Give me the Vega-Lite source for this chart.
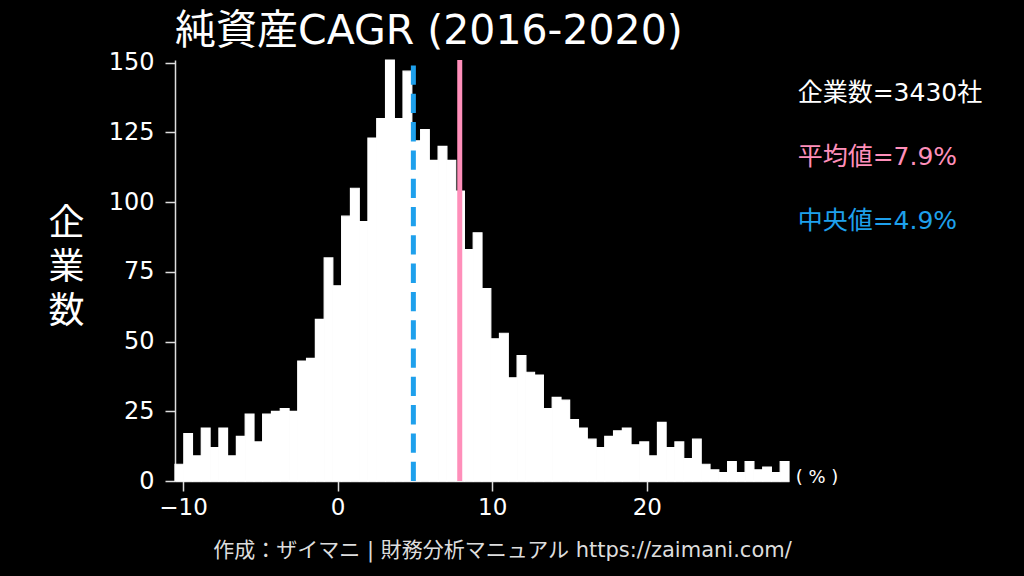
{
  "$schema": "https://vega.github.io/schema/vega-lite/v6.json",
  "width": 614,
  "height": 421,
  "autosize": {"type": "none"},
  "padding": {"left": 175, "top": 60, "right": 235, "bottom": 95},
  "background": "#000000",
  "config": {
    "view": {"stroke": null},
    "font": "DejaVu Sans, Noto Sans CJK JP",
    "axis": {"grid": false, "domainColor": "#dddddd", "tickColor": "#dddddd", "labelColor": "#ffffff", "titleColor": "#ffffff", "labelFont": "DejaVu Sans, Noto Sans CJK JP", "titleFont": "DejaVu Sans, Noto Sans CJK JP", "labelFontSize": 23, "tickSize": 10, "domainWidth": 1.5, "tickWidth": 1.5}
  },
  "title": {"text": "純資産CAGR (2016-2020)", "anchor": "start", "frame": "group", "fontSize": 41, "fontWeight": "normal", "color": "#ffffff", "font": "DejaVu Sans, Noto Sans CJK JP", "offset": -2},
  "datasets": {
    "bins": [
      {"x0": -10.52, "x1": -9.95, "n": 6},
      {"x0": -9.95, "x1": -9.39, "n": 17},
      {"x0": -9.39, "x1": -8.82, "n": 9},
      {"x0": -8.82, "x1": -8.25, "n": 19},
      {"x0": -8.25, "x1": -7.68, "n": 12},
      {"x0": -7.68, "x1": -7.12, "n": 19},
      {"x0": -7.12, "x1": -6.55, "n": 9},
      {"x0": -6.55, "x1": -5.98, "n": 16},
      {"x0": -5.98, "x1": -5.41, "n": 24},
      {"x0": -5.41, "x1": -4.85, "n": 14},
      {"x0": -4.85, "x1": -4.28, "n": 24},
      {"x0": -4.28, "x1": -3.71, "n": 25},
      {"x0": -3.71, "x1": -3.14, "n": 26},
      {"x0": -3.14, "x1": -2.58, "n": 25},
      {"x0": -2.58, "x1": -2.01, "n": 43},
      {"x0": -2.01, "x1": -1.44, "n": 44},
      {"x0": -1.44, "x1": -0.87, "n": 58},
      {"x0": -0.87, "x1": -0.31, "n": 80},
      {"x0": -0.31, "x1": 0.26, "n": 70},
      {"x0": 0.26, "x1": 0.83, "n": 95},
      {"x0": 0.83, "x1": 1.40, "n": 105},
      {"x0": 1.40, "x1": 1.96, "n": 93},
      {"x0": 1.96, "x1": 2.53, "n": 123},
      {"x0": 2.53, "x1": 3.10, "n": 130},
      {"x0": 3.10, "x1": 3.67, "n": 151},
      {"x0": 3.67, "x1": 4.23, "n": 130},
      {"x0": 4.23, "x1": 4.80, "n": 147},
      {"x0": 4.80, "x1": 5.37, "n": 122},
      {"x0": 5.37, "x1": 5.93, "n": 126},
      {"x0": 5.93, "x1": 6.50, "n": 115},
      {"x0": 6.50, "x1": 7.07, "n": 120},
      {"x0": 7.07, "x1": 7.64, "n": 115},
      {"x0": 7.64, "x1": 8.20, "n": 104},
      {"x0": 8.20, "x1": 8.77, "n": 83},
      {"x0": 8.77, "x1": 9.34, "n": 89},
      {"x0": 9.34, "x1": 9.91, "n": 69},
      {"x0": 9.91, "x1": 10.47, "n": 51},
      {"x0": 10.47, "x1": 11.04, "n": 53},
      {"x0": 11.04, "x1": 11.61, "n": 37},
      {"x0": 11.61, "x1": 12.18, "n": 45},
      {"x0": 12.18, "x1": 12.74, "n": 39},
      {"x0": 12.74, "x1": 13.31, "n": 38},
      {"x0": 13.31, "x1": 13.88, "n": 26},
      {"x0": 13.88, "x1": 14.45, "n": 30},
      {"x0": 14.45, "x1": 15.01, "n": 29},
      {"x0": 15.01, "x1": 15.58, "n": 22},
      {"x0": 15.58, "x1": 16.15, "n": 19},
      {"x0": 16.15, "x1": 16.72, "n": 15},
      {"x0": 16.72, "x1": 17.28, "n": 12},
      {"x0": 17.28, "x1": 17.85, "n": 16},
      {"x0": 17.85, "x1": 18.42, "n": 18},
      {"x0": 18.42, "x1": 18.98, "n": 19},
      {"x0": 18.98, "x1": 19.55, "n": 13},
      {"x0": 19.55, "x1": 20.12, "n": 14},
      {"x0": 20.12, "x1": 20.69, "n": 9},
      {"x0": 20.69, "x1": 21.25, "n": 21},
      {"x0": 21.25, "x1": 21.82, "n": 12},
      {"x0": 21.82, "x1": 22.39, "n": 14},
      {"x0": 22.39, "x1": 22.96, "n": 8},
      {"x0": 22.96, "x1": 23.52, "n": 15},
      {"x0": 23.52, "x1": 24.09, "n": 6},
      {"x0": 24.09, "x1": 24.66, "n": 4},
      {"x0": 24.66, "x1": 25.23, "n": 3},
      {"x0": 25.23, "x1": 25.79, "n": 7},
      {"x0": 25.79, "x1": 26.36, "n": 3},
      {"x0": 26.36, "x1": 26.93, "n": 7},
      {"x0": 26.93, "x1": 27.50, "n": 4},
      {"x0": 27.50, "x1": 28.06, "n": 5},
      {"x0": 28.06, "x1": 28.63, "n": 3},
      {"x0": 28.63, "x1": 29.20, "n": 7}
    ],
    "stats": [
      {"label": "企業数=3430社", "x": 29.76, "y": 139, "kind": "count"},
      {"label": "平均値=7.9%", "x": 29.76, "y": 116.2, "kind": "mean"},
      {"label": "中央値=4.9%", "x": 29.76, "y": 93.3, "kind": "median"}
    ],
    "unit": [
      {"label": "( % )", "x": 29.63, "y": 1}
    ]
  },
  "layer": [
    {
      "data": {"name": "bins"},
      "mark": {"type": "rect", "fill": "#ffffff", "stroke": "#ffffff", "strokeWidth": 1.2, "opacity": 1},
      "encoding": {
        "x": {"field": "x0", "type": "quantitative", "scale": {"domain": [-10.52, 29.2], "nice": false, "zero": false},
          "axis": {"values": [-10, 0, 10, 20], "title": "作成：ザイマニ | 財務分析マニュアル https://zaimani.com/", "titleFontSize": 21, "titleFontWeight": "normal", "titleColor": "#dddddd", "titleX": 327, "titleY": 69, "titleAlign": "center", "titleBaseline": "middle", "labelPadding": 5}},
        "x2": {"field": "x1"},
        "y": {"field": "n", "type": "quantitative", "scale": {"domain": [0, 151], "nice": false},
          "axis": {"values": [0, 25, 50, 75, 100, 125, 150], "labelFontSize": 24, "title": ["企", "業", "数"], "titleAngle": 0, "titleFontSize": 36, "titleFontWeight": "normal", "titleLineHeight": 44, "titleX": -109, "titleY": 146, "titleAlign": "center", "titleBaseline": "top", "labelPadding": 11}},
        "y2": {"datum": 0}
      }
    },
    {
      "data": {"values": [{"v": 4.9}]},
      "mark": {"type": "rule", "color": "#1ea0ec", "strokeWidth": 5, "strokeDash": [19.3, 9]},
      "encoding": {
        "x": {"field": "v", "type": "quantitative"},
        "y": {"datum": 0},
        "y2": {"datum": 151}
      }
    },
    {
      "data": {"values": [{"v": 7.9}]},
      "mark": {"type": "rule", "color": "#ff8fba", "strokeWidth": 5},
      "encoding": {
        "x": {"field": "v", "type": "quantitative"},
        "y": {"datum": 0},
        "y2": {"datum": 151}
      }
    },
    {
      "data": {"name": "stats"},
      "mark": {"type": "text", "align": "left", "baseline": "middle", "fontSize": 25, "font": "DejaVu Sans, Noto Sans CJK JP"},
      "encoding": {
        "x": {"field": "x", "type": "quantitative"},
        "y": {"field": "y", "type": "quantitative"},
        "text": {"field": "label"},
        "color": {"field": "kind", "type": "nominal", "scale": {"domain": ["count", "mean", "median"], "range": ["#ffffff", "#ff8fba", "#1ea0ec"]}, "legend": null}
      }
    },
    {
      "data": {"name": "unit"},
      "mark": {"type": "text", "align": "left", "baseline": "middle", "fontSize": 18, "color": "#ffffff", "font": "DejaVu Sans, Noto Sans CJK JP"},
      "encoding": {
        "x": {"field": "x", "type": "quantitative"},
        "y": {"field": "y", "type": "quantitative"},
        "text": {"field": "label"}
      }
    }
  ]
}
